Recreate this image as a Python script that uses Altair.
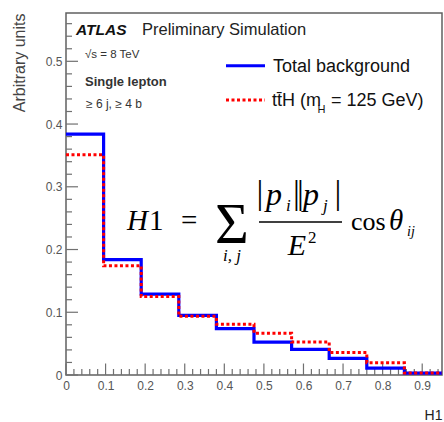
import altair as alt
import pandas as pd

# Normalised H1 distributions (10 bins between 0 and 0.95)
bin_edges = [0.0, 0.095, 0.19, 0.285, 0.38, 0.475, 0.57, 0.665, 0.76, 0.855, 0.95]
total_background = [0.384, 0.184, 0.129, 0.095, 0.074, 0.0525, 0.041, 0.0266, 0.011, 0.003]
tth_signal = [0.351, 0.174, 0.125, 0.0935, 0.0807, 0.0664, 0.0525, 0.036, 0.0196, 0.003]

x_tick_labels = [0.0, 0.1, 0.2, 0.3, 0.4, 0.5, 0.6, 0.7, 0.8, 0.9]
y_tick_labels = [0.0, 0.1, 0.2, 0.3, 0.4, 0.5]

X_MAX, Y_MAX = 0.95, 0.577
W, H = 376, 362
SANS = "Liberation Sans"
SERIF = "Liberation Serif"
FRAME = "#606060"
TICK = "#707070"

x_scale = alt.Scale(domain=[0, X_MAX], nice=False, zero=False)
y_scale = alt.Scale(domain=[0, Y_MAX], nice=False, zero=False)

x_axis = alt.Axis(
    values=x_tick_labels, format="~g", ticks=False, tickSize=0, domain=False, grid=False,
    labelFlush=False, labelFont=SANS, labelFontSize=12, labelColor="#555555", labelPadding=5,
    title="H1", titleFont=SANS, titleFontSize=14, titleFontWeight="normal", titleColor="#222222",
    titleX=W, titleY=40, titleAlign="right", titleBaseline="middle",
)
y_axis = alt.Axis(
    values=y_tick_labels, format="~g", ticks=False, tickSize=0, domain=False, grid=False,
    labelFont=SANS, labelFontSize=12, labelColor="#555555", labelPadding=4,
    title="Arbitrary units", titleFont=SANS, titleFontSize=16, titleFontWeight="normal",
    titleColor="#444444", titleAngle=270, titleX=-47, titleY=0, titleAlign="right",
    titleBaseline="middle",
)


def xenc(field="x"):
    return alt.X(f"{field}:Q", scale=x_scale, axis=x_axis)


def yenc(field="y"):
    return alt.Y(f"{field}:Q", scale=y_scale, axis=y_axis)


def step_frame(values):
    # repeat the last bin content at the upper edge so the step closes the final bin
    return pd.DataFrame({"x": bin_edges, "y": values + [values[-1]]})


bkg_line = alt.Chart(step_frame(total_background)).mark_line(
    interpolate="step-after", color="#0000ff", strokeWidth=3.2
).encode(x=xenc(), y=yenc())

sig_line = alt.Chart(step_frame(tth_signal)).mark_line(
    interpolate="step-after", color="#ff0000", strokeWidth=3, strokeDash=[3, 2.5]
).encode(x=xenc(), y=yenc())

# Inward-pointing ticks, ROOT style (lengths given in pixels, converted to data units)
PX_X = X_MAX / W
PX_Y = Y_MAX / H
y_major = [round(v, 2) for v in y_tick_labels]
y_minor = [round(0.02 * i, 2) for i in range(29) if i % 5 != 0]
x_major = [round(v, 2) for v in x_tick_labels]
x_minor = [round(0.02 * i, 2) for i in range(48) if i % 5 != 0]


def y_ticks(vals, length):
    df = pd.DataFrame({"y": vals, "x": 0.0, "x2": length * PX_X})
    return alt.Chart(df).mark_rule(color=TICK, strokeWidth=1.2).encode(
        y=yenc(), x=xenc(), x2="x2:Q"
    )


def x_ticks(vals, length):
    df = pd.DataFrame({"x": vals, "y": 0.0, "y2": length * PX_Y})
    return alt.Chart(df).mark_rule(color=TICK, strokeWidth=1.2).encode(
        x=xenc(), y=yenc(), y2="y2:Q"
    )


def label(text, x, y, size, font=SANS, style="normal", weight="normal", align="left", color="black"):
    return alt.Chart(pd.DataFrame({"t": [text]})).mark_text(
        font=font, fontSize=size, fontStyle=style, fontWeight=weight,
        align=align, baseline="alphabetic", color=color,
    ).encode(text="t:N", x=alt.value(x), y=alt.value(y))


def seg(x1, x2, y, color, width, dash=None):
    kw = dict(color=color, strokeWidth=width)
    if dash:
        kw["strokeDash"] = dash
    return alt.Chart(pd.DataFrame({"k": [0]})).mark_rule(**kw).encode(
        x=alt.value(x1), x2=alt.value(x2), y=alt.value(y)
    )


header = [
    label("ATLAS", 10, 21.5, 15.5, style="italic", weight="bold", color="#111111"),
    label("Preliminary Simulation", 76, 21.5, 16.5, color="#222222"),
    label("√s = 8 TeV", 19, 44.5, 11.5, color="#333333"),
    label("Single lepton", 19, 73, 13, weight="bold", color="#333333"),
    label("≥ 6 j, ≥ 4 b", 20, 94.5, 12, color="#333333"),
]

legend = [
    seg(160, 199, 52.7, "#0000ff", 3),
    label("Total background", 207, 58.5, 18, color="#111111"),
    seg(160, 199, 87, "#ff0000", 3, [3, 2.5]),
    label("tt\u0304H (m", 206, 93, 18, color="#111111"),
    label("H", 251.5, 99.5, 11, color="#111111"),
    label("= 125 GeV)", 265, 93, 18, color="#111111"),
]

# H1 = sum_{i,j} |p_i||p_j| / E^2 cos(theta_ij)
formula = [
    label("H", 61, 217, 29, font=SERIF, style="italic"),
    label("1", 83, 217, 29, font=SERIF),
    label("=", 115, 217, 29, font=SERIF),
    label("Σ", 149, 230, 58, font=SERIF),
    label("i, j", 166, 248, 17, font=SERIF, style="italic", align="center"),
    label("|", 194, 191, 34, font=SERIF, align="center"),
    label("p", 200, 192, 32, font=SERIF, style="italic"),
    label("i", 220, 198, 17, font=SERIF, style="italic"),
    label("|", 230.5, 191, 34, font=SERIF, align="center"),
    label("|", 234.5, 191, 34, font=SERIF, align="center"),
    label("p", 237, 192, 32, font=SERIF, style="italic"),
    label("j", 257, 198, 17, font=SERIF, style="italic"),
    label("|", 272, 191, 34, font=SERIF, align="center"),
    seg(193, 276, 209, "black", 1.5),
    label("E", 231, 242, 30, font=SERIF, style="italic", align="center"),
    label("2", 242, 230, 17, font=SERIF),
    label("cos", 285, 217, 26, font=SERIF),
    label("θ", 323, 217, 29, font=SERIF, style="italic"),
    label("ij", 341, 223, 14, font=SERIF, style="italic"),
]

chart = alt.layer(
    y_ticks(y_major, 12), y_ticks(y_minor, 6),
    x_ticks(x_major, 11.5), x_ticks(x_minor, 6),
    bkg_line, sig_line,
    *header, *legend, *formula,
).properties(
    width=W, height=H,
    padding={"left": 66, "top": 13, "right": 2, "bottom": 47},
    autosize=alt.AutoSizeParams(type="none"),
    background="white",
).configure_view(stroke=FRAME, strokeWidth=1.5)

chart.save("out.html", embed_options={"renderer": "svg", "actions": False})
